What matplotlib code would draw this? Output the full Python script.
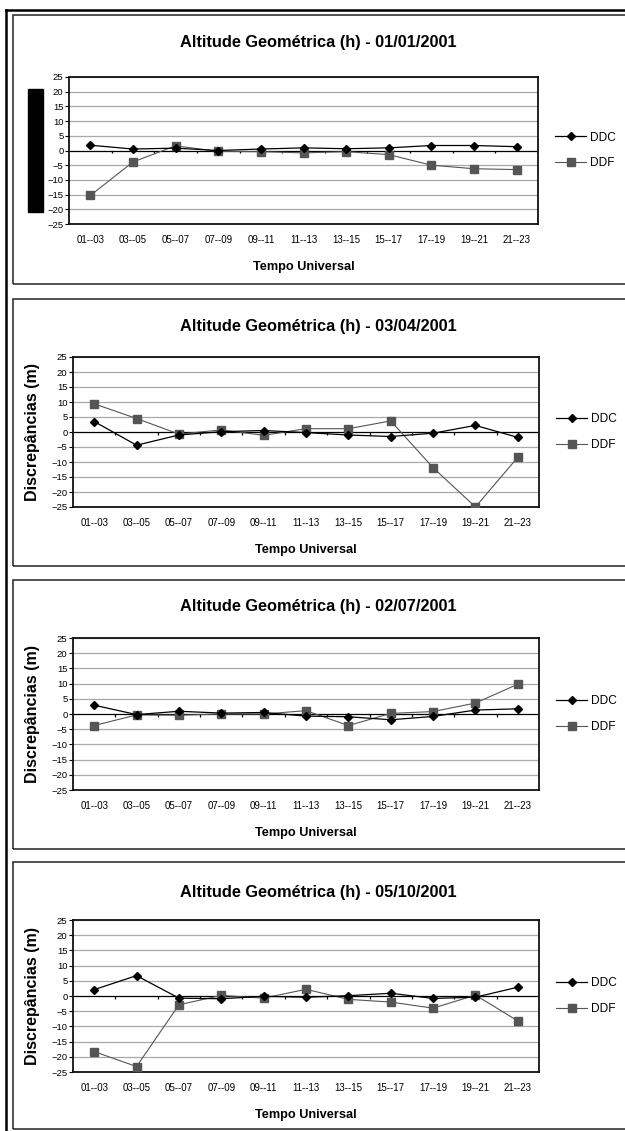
import matplotlib
matplotlib.use("Agg")
import matplotlib.pyplot as plt
from matplotlib.patches import Rectangle
from matplotlib.lines import Line2D

plt.rcParams['font.family'] = ['Liberation Sans', 'DejaVu Sans']

# Dados
categorias = ["01--03", "03--05", "05--07", "07--09", "09--11", "11--13",
              "13--15", "15--17", "17--19", "19--21", "21--23"]
datas = ["01/01/2001", "03/04/2001", "02/07/2001", "05/10/2001"]

ddc_0101 = [1.8, 0.5, 0.8, 0.0, 0.5, 0.9, 0.6, 0.9, 1.7, 1.7, 1.3]
ddf_0101 = [-15.3, -3.9, 1.6, -0.3, -0.4, -0.8, -0.4, -1.4, -5.0, -6.2, -6.5]

ddc_0304 = [3.5, -4.4, -1.0, 0.1, 0.5, -0.2, -1.0, -1.5, -0.4, 2.2, -1.8]
ddf_0304 = [9.4, 4.5, -0.7, 0.7, -1.1, 1.1, 1.1, 3.7, -11.9, -25.0, -8.4]

ddc_0207 = [2.9, -0.2, 0.9, 0.3, 0.5, -0.7, -0.9, -1.9, -0.8, 1.3, 1.7]
ddf_0207 = [-3.8, -0.3, -0.4, 0.0, 0.0, 1.1, -3.8, 0.2, 0.8, 3.6, 9.8]

ddc_0510 = [2.1, 6.7, -0.7, -0.9, -0.1, -0.4, 0.1, 0.9, -0.8, -0.4, 2.9]
ddf_0510 = [-18.3, -23.2, -2.9, 0.2, -0.7, 2.2, -1.1, -2.0, -4.0, 0.3, -8.2]

series = [(ddc_0101, ddf_0101), (ddc_0304, ddf_0304),
          (ddc_0207, ddf_0207), (ddc_0510, ddf_0510)]

W, H = 625, 1131
fig = plt.figure(figsize=(W / 100, H / 100), dpi=100)

def fx(px):
    return px / W

def fy(py):
    return 1 - py / H

# caixas (px): topo, base ; eixos (px): esq, dir, topo, base ; título y
caixas = [(15, 284), (299, 566), (580, 849), (862, 1129)]
eixos = [(69, 538, 77, 224), (73, 539, 357, 507),
         (73, 539, 638, 790), (73, 539, 920, 1072)]
titulos_y = [43, 326, 606, 893]

x = list(range(len(categorias)))
cinza = "#555555"

for i, (ddc, ddf) in enumerate(series):
    top, bot = caixas[i]
    fig.add_artist(Rectangle((fx(13), fy(bot)), 2, (bot - top) / H,
                             transform=fig.transFigure, fill=False,
                             edgecolor="#222222", lw=1.1))

    l, r, t, b = eixos[i]
    ax = fig.add_axes([fx(l), fy(b), (r - l) / W, (b - t) / H])

    for y in range(-25, 30, 5):
        if y != 0:
            ax.axhline(y, color="#a8a8a8", lw=0.9, zorder=0)
    ax.axhline(0, color="black", lw=0.9, zorder=1)
    ax.vlines([k + 0.5 for k in x[:-1]], -1.0, 0, color="black", lw=0.9, zorder=1)

    ax.plot(x, ddc, color="black", lw=0.9, marker="D", ms=4.2,
            label="DDC", zorder=4)
    ax.plot(x, ddf, color=cinza, lw=0.8, marker="s", ms=5.2,
            label="DDF", zorder=3)

    ax.set_xlim(-0.5, len(categorias) - 0.5)
    ax.set_ylim(-25, 25)
    ax.set_yticks(range(-25, 30, 5))
    ax.set_xticks(x)
    ax.set_xticklabels(categorias)
    ax.tick_params(axis="x", length=0, labelsize=7, pad=8)
    ax.tick_params(axis="y", length=3, width=0.8, labelsize=6.8, pad=1)
    for s in ax.spines.values():
        s.set_linewidth(1.3)
        s.set_color("#111111")

    ax.set_xlabel("Tempo Universal", fontsize=9.2, fontweight="bold")
    ax.xaxis.set_label_coords(0.5, -(37 / (b - t)))
    if i > 0:
        # no primeiro gráfico o rótulo está coberto por uma tarja preta
        ax.set_ylabel("Discrepâncias (m)", fontsize=11.5, fontweight="bold")
        ax.yaxis.set_label_coords(-(l - 40) / (r - l), 0.5)

    ax.legend(loc="center left", bbox_to_anchor=(1 + 17 / (r - l), 0.5),
              frameon=False, fontsize=8.6, handlelength=2.6, handletextpad=0.3,
              labelspacing=1.15, borderaxespad=0, borderpad=0)

    fig.text(fx(318), fy(titulos_y[i]),
             "Altitude Geométrica (h) - " + datas[i],
             ha="center", va="center", fontsize=11.8, fontweight="bold")

# tarja preta do primeiro gráfico
fig.add_artist(Rectangle((fx(28), fy(212)), 15 / W, 123 / H,
                         transform=fig.transFigure, color="black", zorder=10))

# moldura externa
fig.add_artist(Line2D([fx(6), fx(6)], [0, fy(10)], transform=fig.transFigure,
                      color="black", lw=1.8))
fig.add_artist(Line2D([fx(6), 1], [fy(10), fy(10)], transform=fig.transFigure,
                      color="black", lw=1.8))

fig.savefig("out.png", dpi=100)
